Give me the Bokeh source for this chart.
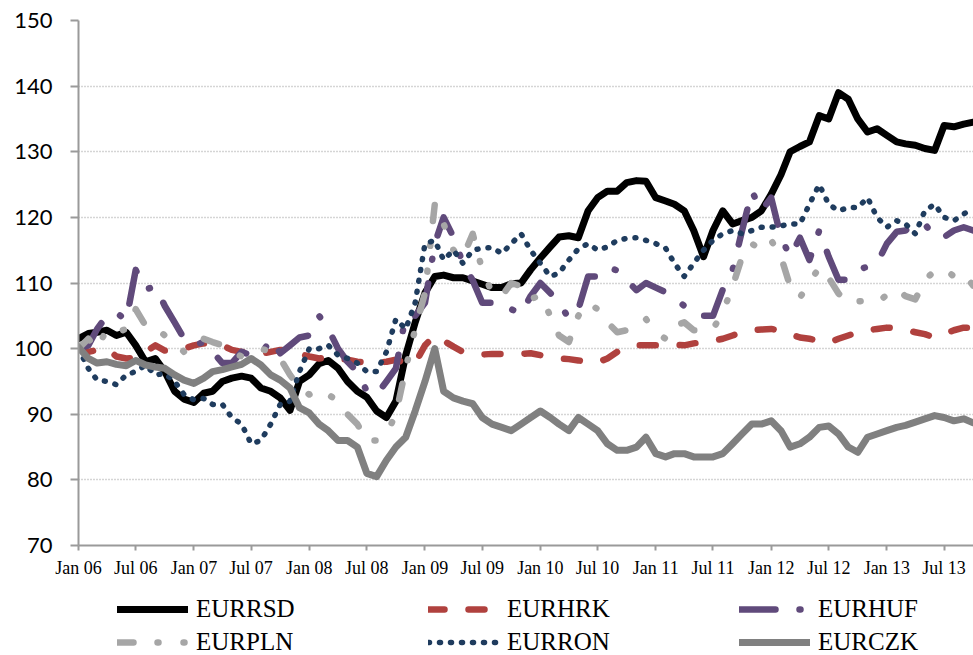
import pandas as pd
from datetime import datetime
from bokeh.plotting import figure
from bokeh.layouts import column
from bokeh.models import Range1d, FixedTicker, DatetimeTickFormatter, Legend, LegendItem
from bokeh.embed import file_html
from bokeh.resources import INLINE

# monthly observations, Jan 2006 .. Oct 2013 (index, Jan 2006 = 100)
dates = list(pd.date_range("2006-01-01", "2013-10-01", freq="MS"))

eurrsd = [101.5, 102.3, 102.5, 102.8, 102.0, 102.5, 100.5, 98.0, 98.5, 96.5,
          93.5, 92.3, 91.8, 93.2, 93.5, 95.0, 95.5, 95.8, 95.5, 94.0,
          93.5, 92.5, 90.6, 95.0, 96.0, 97.7, 98.2, 97.0, 95.0, 93.5,
          92.6, 90.5, 89.5, 92.0, 99.0, 104.0, 108.5, 111.0, 111.2, 110.8,
          110.8, 110.3, 109.8, 109.3, 109.3, 109.9, 110.0, 112.0, 113.8, 115.5,
          117.0, 117.2, 116.9, 121.0, 123.0, 124.0, 124.0, 125.3, 125.6, 125.5,
          123.0, 122.5, 122.0, 121.0, 118.0, 114.0, 118.0, 121.0, 119.0, 119.5,
          120.0, 121.0, 123.5, 126.5, 130.0, 130.8, 131.5, 135.5, 135.0, 139.0,
          138.0, 135.0, 133.0, 133.5, 132.5, 131.5, 131.2, 131.0, 130.5, 130.2,
          134.0, 133.8, 134.2, 134.5]

eurhrk = [100.3, 99.5, 99.8, 100.0, 98.8, 98.5, 98.6, 99.5, 100.5, 99.7,
          99.8, 100.0, 100.5, 100.8, 100.8, 100.5, 99.8, 99.5, 99.5, 99.2,
          99.5, 99.8, 99.7, 99.2, 98.8, 98.5, 98.6, 98.5, 98.3, 98.0,
          97.9, 97.9, 98.0, 98.3, 97.8, 97.8, 100.5, 102.0, 101.2, 100.3,
          99.5, 99.2, 99.1, 99.2, 99.2, 99.2, 99.2, 99.3, 99.0, 98.8,
          98.5, 98.4, 98.2, 98.0, 97.9, 98.5, 99.5, 100.2, 100.5, 100.5,
          100.5, 100.4, 100.6, 100.5, 100.8, 101.0, 101.2, 101.5, 102.0, 102.5,
          102.8, 102.9, 103.0, 102.7, 102.2, 101.7, 101.5, 101.2, 100.9, 101.5,
          102.0, 102.5, 102.8, 103.0, 103.2, 103.1, 102.8, 102.5, 102.2, 101.7,
          102.2, 102.8, 103.2, 103.2]

eurhuf = [100.0, 100.5, 103.0, 105.0, 105.5, 104.3, 112.0, 109.0, 109.5, 106.5,
          104.0, 101.5, 100.5, 101.0, 99.5, 97.8, 97.8, 99.5, 99.0, 99.0,
          101.5, 99.3, 100.5, 101.7, 102.0, 105.0, 103.0, 100.0, 98.0, 96.5,
          93.5, 93.0, 95.0, 97.0, 105.0, 105.0, 107.0, 116.0, 120.0, 117.0,
          113.0, 110.4, 107.0, 107.0, 107.0, 106.0, 105.3, 108.0, 110.0, 108.5,
          107.0, 104.6, 106.0, 111.0, 111.0, 112.4, 111.9, 110.4, 108.9, 110.0,
          109.3, 108.6, 107.8, 106.5, 105.3, 105.0, 105.0, 109.0, 112.0, 118.0,
          124.0, 121.0, 123.0, 117.0, 114.0, 116.9, 113.5, 118.0, 114.0, 110.5,
          110.5, 112.0, 112.5, 113.0, 116.0, 117.8, 118.0, 119.0, 119.0, 117.0,
          117.0, 118.0, 118.5, 118.0]

eurpln = [100.0, 101.5, 100.0, 103.0, 102.5, 103.0, 106.0, 103.5, 103.2, 102.0,
          101.0, 99.5, 100.5, 101.5, 101.0, 100.5, 99.5, 98.8, 99.5, 100.0,
          99.5, 98.5, 96.0, 94.0, 93.0, 93.8, 93.0, 92.0, 90.0, 88.5,
          86.0, 86.0, 87.0, 90.0, 97.0, 103.0, 108.5, 122.0, 119.0, 115.0,
          114.0, 117.5, 112.0, 108.5, 108.0, 110.0, 109.5, 107.5, 108.2, 105.0,
          102.0, 101.0, 105.0, 107.0, 106.0, 104.0, 102.5, 102.8, 103.5, 104.5,
          102.5, 101.5, 103.5, 104.0, 102.8, 102.8, 103.0, 105.5, 109.5, 114.0,
          116.0, 115.0, 116.5, 114.0, 109.5, 107.8, 110.0, 112.4, 110.8, 108.4,
          107.0, 107.2, 107.3, 107.0, 108.2, 109.0, 108.0, 107.5, 110.4, 111.9,
          112.2, 111.0, 111.4, 109.6]

eurron = [100.0, 97.0, 95.2, 95.0, 94.5, 96.0, 96.5, 97.5, 96.0, 96.2,
          95.0, 93.0, 92.2, 92.4, 91.5, 91.5, 89.5, 88.5, 85.5, 86.0,
          88.5, 91.5, 92.0, 96.5, 100.0, 100.0, 100.5, 99.0, 98.5, 97.8,
          96.5, 96.5, 99.5, 104.5, 103.0, 107.0, 116.0, 116.5, 113.5, 115.0,
          113.0, 115.0, 115.3, 115.4, 114.5, 116.0, 117.5, 115.0, 113.0, 111.0,
          111.5, 113.5, 115.2, 116.0, 115.0, 115.5, 116.5, 116.8, 116.9, 116.5,
          116.0, 115.3, 113.0, 111.0, 113.0, 115.0, 116.5, 117.5, 118.0, 117.5,
          118.0, 118.5, 118.5, 118.7, 119.0, 119.0, 122.0, 125.0, 122.0, 121.0,
          121.5, 121.5, 123.0, 120.0, 118.5, 119.5, 119.0, 117.5, 121.0, 122.0,
          120.0, 119.5, 120.5, 121.5]

eurczk = [100.2, 98.5, 97.8, 98.0, 97.6, 97.4, 98.2, 97.5, 97.2, 97.0,
          96.0, 95.2, 94.7, 95.5, 96.5, 96.8, 97.2, 97.6, 98.5, 97.5,
          96.0, 95.2, 94.0, 91.0, 90.2, 88.5, 87.5, 86.0, 86.0, 85.0,
          81.0, 80.5, 83.0, 85.0, 86.5, 90.5, 95.0, 100.0, 93.5, 92.5,
          92.0, 91.6, 89.5, 88.5, 88.0, 87.5, 88.5, 89.5, 90.5, 89.5,
          88.5, 87.5, 89.5, 88.5, 87.5, 85.5, 84.5, 84.5, 85.0, 86.5,
          84.0, 83.5, 84.0, 84.0, 83.5, 83.5, 83.5, 84.0, 85.5, 87.0,
          88.5, 88.5, 89.0, 87.5, 85.0, 85.5, 86.5, 88.0, 88.2, 87.0,
          85.0, 84.2, 86.5, 87.0, 87.5, 88.0, 88.3, 88.8, 89.3, 89.8,
          89.5, 89.0, 89.3, 88.7]

tick_dates = [datetime(y, m, 1) for y in range(2006, 2014) for m in (1, 7)]
y_ticks = [70, 80, 90, 100, 110, 120, 130, 140, 150]

p = figure(width=973, height=580, x_axis_type="datetime",
           output_backend="svg", toolbar_location=None,
           x_range=Range1d(datetime(2006, 1, 1), datetime(2013, 10, 2)),
           y_range=Range1d(70, 150))
p.min_border_left = 78
p.min_border_right = 0
p.min_border_top = 20
p.min_border_bottom = 35
p.outline_line_color = None
p.background_fill_color = "white"
p.border_fill_color = "white"

p.xgrid.grid_line_color = None
p.ygrid.grid_line_color = "#ABABAB"
p.ygrid.grid_line_dash = "1 2"
p.ygrid.grid_line_width = 1.5
p.ygrid.ticker = FixedTicker(ticks=y_ticks)

p.yaxis.ticker = FixedTicker(ticks=y_ticks)
p.yaxis.axis_line_color = "#9A9A9A"
p.yaxis.axis_line_width = 2
p.yaxis.major_tick_line_color = "#9A9A9A"
p.yaxis.major_tick_line_width = 2
p.yaxis.major_tick_out = 8
p.yaxis.major_tick_in = 0
p.yaxis.minor_tick_line_color = None
p.yaxis.major_label_standoff = 18
p.yaxis.major_label_text_font = "Lato"
p.yaxis.major_label_text_font_size = "22px"
p.yaxis.major_label_text_color = "black"

p.xaxis.ticker = FixedTicker(ticks=[d.timestamp() * 1000 for d in tick_dates])
p.xaxis.formatter = DatetimeTickFormatter(months="%b %y", days="%b %y", years="%b %y")
p.xaxis.axis_line_color = "#9A9A9A"
p.xaxis.axis_line_width = 2
p.xaxis.major_tick_line_color = "#9A9A9A"
p.xaxis.major_tick_line_width = 2
p.xaxis.major_tick_out = 5
p.xaxis.major_tick_in = 0
p.xaxis.minor_tick_line_color = None
p.xaxis.major_label_standoff = 7
p.xaxis.major_label_text_font = "Liberation Serif"
p.xaxis.major_label_text_font_size = "18px"
p.xaxis.major_label_text_color = "black"

series = [
    ("EURRSD", eurrsd, "#000000", 7, "solid"),
    ("EURHRK", eurhrk, "#B0413E", 6.5, "16 24"),
    ("EURHUF", eurhuf, "#604A7B", 6.5, "36 24 1 24"),
    ("EURPLN", eurpln, "#A6A6A6", 6.5, "16 24 1 25 1 24"),
    ("EURRON", eurron, "#1F3C5E", 5.5, "1 10"),
    ("EURCZK", eurczk, "#808080", 7, "solid"),
]

for name, vals, col, w, dash in series:
    p.line(dates, vals, line_color=col, line_width=w, line_dash=dash,
           line_cap="round", line_join="round")

# legend strip below the chart (its series lie outside this strip's ranges)
lg = figure(width=973, height=75, output_backend="svg", toolbar_location=None,
            x_axis_location=None, y_axis_location=None,
            x_range=Range1d(0, 1), y_range=Range1d(0, 1))
lg.min_border = 0
lg.outline_line_color = None
lg.xgrid.visible = False
lg.ygrid.visible = False
lg.background_fill_color = "white"
lg.border_fill_color = "white"

items = []
for name, vals, col, w, dash in series:
    r = lg.line(dates, vals, line_color=col, line_width=w, line_dash=dash,
                line_cap="round", line_join="round")
    items.append(LegendItem(label=name, renderers=[r]))

legend = Legend(items=items, orientation="horizontal", ncols=3,
                location=(39, -1), glyph_width=71, glyph_height=24,
                label_height=24, label_width=227, spacing=5, padding=0,
                margin=0, label_standoff=8, border_line_alpha=0,
                background_fill_alpha=0, label_text_font="Liberation Serif",
                label_text_font_size="25px", label_text_color="black")
lg.add_layout(legend)

open("out.html", "w").write(file_html(column(p, lg), INLINE))
